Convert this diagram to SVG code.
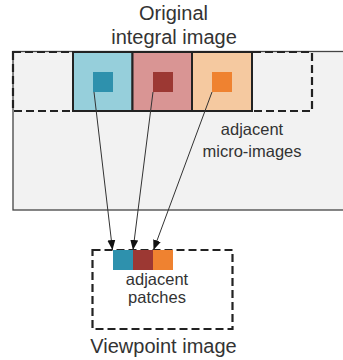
<svg xmlns="http://www.w3.org/2000/svg" width="343" height="360" viewBox="0 0 343 360">
<style>
.t{font-family:"Liberation Sans",Arial,sans-serif;fill:#333;text-anchor:middle}
.big{font-size:20px}
.sm{font-size:16.5px}
.dash{fill:none;stroke:#222;stroke-width:2.2;stroke-dasharray:8,4}
.cell{stroke:#222;stroke-width:2}
.ln{stroke:#333;stroke-width:1;fill:none}
</style>
<defs>
<marker id="ah" viewBox="0 0 10 10" refX="10" refY="5" markerWidth="10" markerHeight="10" markerUnits="userSpaceOnUse" orient="auto">
<path d="M0,1 L10,5 L0,9 Z" fill="#111"/>
</marker>
</defs>
<g id="integral">
<rect x="13" y="51.5" width="335" height="158.5" fill="#f2f2f2" stroke="#444" stroke-width="1.3"/>
<text class="t big" x="173.5" y="20">Original</text>
<text class="t big" x="174" y="43.5">integral image</text>
</g>
<g id="micro-blue"><rect class="cell" x="73" y="52" width="59.5" height="59" fill="#96cfdb"/><rect x="93" y="72" width="20" height="20" fill="#2e91ad"/></g>
<g id="micro-red"><rect class="cell" x="132.5" y="52" width="59.5" height="59" fill="#d99594"/><rect x="153" y="72" width="20" height="20" fill="#9c3833"/></g>
<g id="micro-orange"><rect class="cell" x="192" y="52" width="60" height="59" fill="#f5c9a0"/><rect x="212" y="72" width="20" height="20" fill="#ef8230"/></g>
<g id="dashed-row"><rect class="dash" x="13" y="52" width="299" height="59"/></g>
<g id="label-micro">
<text class="t sm" x="252" y="135">adjacent</text>
<text class="t sm" x="252" y="156.5">micro-images</text>
</g>
<g id="viewpoint">
<rect class="dash" x="92.5" y="250" width="140" height="79" fill="#f2f2f2"/>
<rect x="113" y="250" width="20" height="20" fill="#2e91ad"/>
<rect x="133" y="250" width="20" height="20" fill="#9c3833"/>
<rect x="153" y="250" width="20" height="20" fill="#ef8230"/>
<text class="t sm" x="157" y="285">adjacent</text>
<text class="t sm" x="157" y="303">patches</text>
<text class="t big" x="163.5" y="353">Viewpoint image</text>
</g>
<g id="connectors">
<line class="ln" x1="94" y1="92" x2="112.5" y2="250" marker-end="url(#ah)"/>
<line class="ln" x1="153" y1="92" x2="133" y2="250" marker-end="url(#ah)"/>
<line class="ln" x1="212" y1="92" x2="153.5" y2="250" marker-end="url(#ah)"/>
</g>
</svg>
